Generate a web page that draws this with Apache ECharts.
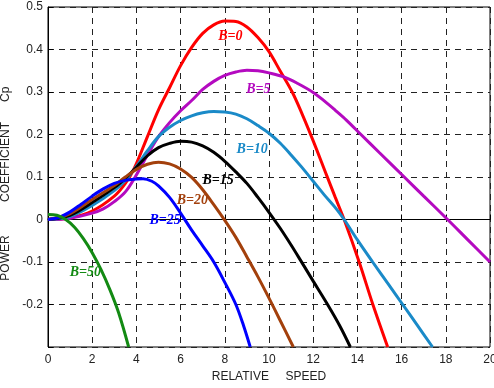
<!DOCTYPE html>
<html>
<head>
<meta charset="utf-8">
<script src="https://cdn.jsdelivr.net/npm/echarts@6/dist/echarts.min.js"></script>
<style>
  html, body { margin: 0; padding: 0; background: #fff; }
  #main { width: 494px; height: 388px; }
</style>
</head>
<body>
<div id="main"></div>
<script>
// Cp vs relative speed, one curve per pitch angle B
const xTicks = [0, 2, 4, 6, 8, 10, 12, 14, 16, 18, 20];
const yTickLabels = ['-0.2', '-0.1', '0', '0.1', '0.2', '0.3', '0.4', '0.5'];

const b0 = [[0,0],[1,0.004],[2,0.02],[3,0.055],[3.5,0.085],[3.9,0.12],[4.5,0.195],[5,0.258],[5.5,0.31],[6,0.362],[6.5,0.405],[7,0.438],[7.5,0.458],[8,0.467],[8.5,0.466],[9,0.453],[9.5,0.428],[10,0.395],[10.5,0.35],[11.05,0.3],[11.5,0.248],[12,0.185],[12.6,0.105],[13,0.052],[13.4,0],[14.08,-0.1],[14.7,-0.2],[15.37,-0.3]];
const b5 = [[0,0],[1,0.003],[2,0.015],[2.5,0.025],[3,0.042],[3.5,0.065],[4,0.105],[4.5,0.152],[5,0.195],[5.5,0.228],[6,0.256],[6.5,0.28],[7,0.306],[7.5,0.325],[8,0.339],[8.5,0.347],[9,0.351],[9.5,0.35],[10,0.345],[10.7,0.335],[11.3,0.32],[12,0.299],[12.5,0.279],[13,0.257],[13.5,0.234],[14.16,0.2],[15,0.157],[16.12,0.1],[17,0.055],[18.08,0],[19,-0.048],[20,-0.1]];
const b10 = [[0,0],[1,0.007],[2,0.033],[3,0.068],[3.5,0.092],[4,0.125],[4.5,0.162],[5,0.195],[5.5,0.217],[6,0.233],[6.5,0.244],[7,0.251],[7.5,0.254],[8,0.253],[8.5,0.248],[9,0.237],[9.5,0.221],[10,0.203],[10.5,0.18],[11,0.152],[11.5,0.122],[12,0.09],[12.5,0.058],[13,0.028],[13.4,0],[14,-0.048],[14.69,-0.1],[15.4,-0.152],[16.05,-0.2],[16.7,-0.248],[17.4,-0.3]];
const b15 = [[0,0],[1,0.01],[2,0.04],[3,0.075],[3.5,0.097],[4,0.123],[4.5,0.15],[5,0.169],[5.5,0.179],[6,0.184],[6.5,0.182],[7,0.173],[7.5,0.158],[8,0.137],[8.5,0.112],[9,0.085],[9.5,0.052],[10,0.017],[10.5,-0.02],[11,-0.06],[11.45,-0.098],[12,-0.145],[12.65,-0.2],[13.2,-0.25],[13.68,-0.3]];
const b20 = [[0,0],[1,0.014],[2,0.047],[3,0.08],[3.5,0.1],[4,0.118],[4.5,0.13],[5,0.135],[5.5,0.131],[6,0.119],[6.5,0.099],[7,0.07],[7.5,0.035],[8,-0.002],[8.5,-0.042],[9,-0.088],[9.5,-0.135],[10,-0.185],[10.5,-0.237],[11.1,-0.3]];
const b25 = [[0,0],[0.5,0.005],[1,0.018],[1.5,0.036],[2,0.055],[2.5,0.072],[3,0.085],[3.5,0.092],[4,0.095],[4.3,0.096],[4.7,0.09],[5,0.079],[5.5,0.052],[6,0.015],[6.5,-0.025],[7,-0.062],[7.5,-0.1],[8,-0.148],[8.5,-0.2],[8.85,-0.25],[9.15,-0.3]];
const b50 = [[0,0.012],[0.4,0.01],[0.8,0],[1.2,-0.018],[1.6,-0.045],[2,-0.078],[2.4,-0.118],[2.8,-0.165],[3.2,-0.22],[3.65,-0.3]];

const curveNames = ['B=0', 'B=5', 'B=10', 'B=15', 'B=20', 'B=25', 'B=50'];
const curveColors = ['#ff0000', '#b40ac0', '#1a8ac8', '#000000', '#a3400c', '#0000ff', '#138a13'];
const labelPos = [[8.25,0.432],[9.52,0.305],[9.24,0.164],[7.7,0.093],[6.53,0.044],[5.3,-0.003],[1.69,-0.125]];
const curves = [b0, b5, b10, b15, b20, b25, b50];

const myChart = echarts.init(document.getElementById('main'));

const series = curves.map((d, i) => ({
  name: curveNames[i],
  type: 'line',
  data: d,
  smooth: 0.35,
  showSymbol: false,
  lineStyle: { color: curveColors[i], width: 3 },
  markPoint: {
    symbol: 'circle',
    symbolSize: 0,
    data: [{ coord: labelPos[i] }],
    label: {
      show: true,
      position: 'inside',
      formatter: curveNames[i],
      color: curveColors[i],
      fontFamily: 'Liberation Serif',
      fontStyle: 'italic',
      fontWeight: 'bold',
      fontSize: 14
    }
  }
}));

const option = {
  animation: false,
  grid: {
    left: 48, right: 4, top: 7, bottom: 41,
    outerBoundsMode: 'none',
    containLabel: false,
    show: true, borderColor: '#000', borderWidth: 1
  },
  xAxis: {
    type: 'value',
    min: 0, max: 20, interval: 2,
    name: 'RELATIVE     SPEED',
    nameLocation: 'middle',
    nameGap: 23,
    nameTextStyle: { fontFamily: 'Liberation Sans', fontSize: 12, color: '#222' },
    axisLine: { lineStyle: { color: '#000', width: 1 } },
    axisTick: { inside: true, length: 5, lineStyle: { color: '#000' } },
    axisLabel: {
      margin: 7, color: '#222', fontFamily: 'Liberation Sans', fontSize: 12,
      formatter: v => xTicks.indexOf(v) >= 0 ? String(v) : ''
    },
    splitLine: { show: true, lineStyle: { color: '#222', type: [6, 5], width: 1 } }
  },
  yAxis: {
    type: 'value',
    min: -0.3, max: 0.5, interval: 0.1,
    name: 'POWER          COEFFICIENT      Cp    ',
    nameLocation: 'middle',
    nameGap: 34,
    nameTextStyle: { fontFamily: 'Liberation Sans', fontSize: 12, color: '#222' },
    axisLine: { lineStyle: { color: '#000', width: 1 } },
    axisTick: { inside: true, length: 5, lineStyle: { color: '#000' } },
    axisLabel: {
      margin: 5, color: '#222', fontFamily: 'Liberation Sans', fontSize: 12,
      formatter: v => {
        const s = String(Math.round(v * 10) / 10);
        return yTickLabels.indexOf(s) >= 0 ? s : '';
      }
    },
    splitLine: { show: true, lineStyle: { color: '#222', type: [6, 5], width: 1 } }
  },
  series: series
};

myChart.setOption(option);
</script>
</body>
</html>
